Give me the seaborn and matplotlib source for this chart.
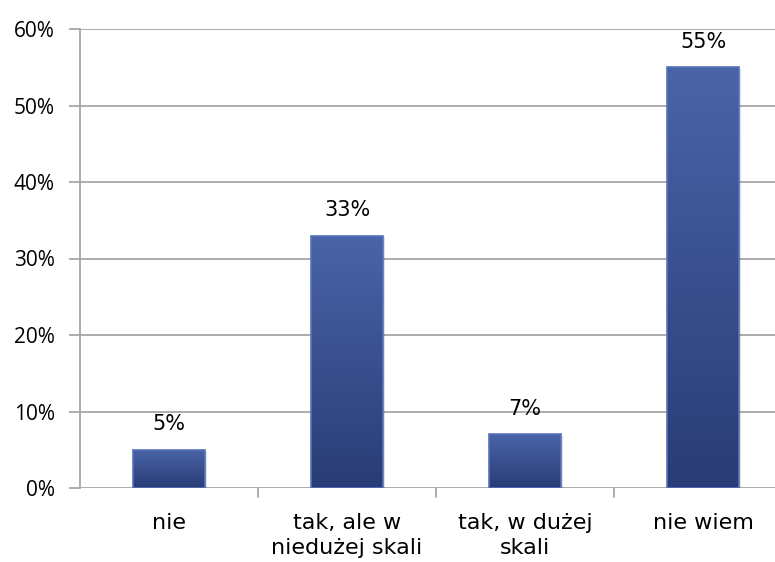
import numpy as np
import pandas as pd
import matplotlib
matplotlib.use("Agg")
import matplotlib.pyplot as plt
from matplotlib.colors import LinearSegmentedColormap
import seaborn as sns

categories = ["nie", "tak, ale w\nniedużej skali", "tak, w dużej\nskali", "nie wiem"]
values = [5, 33, 7, 55]
y_ticks = [0, 10, 20, 30, 40, 50, 60]
y_tick_labels = ["0%", "10%", "20%", "30%", "40%", "50%", "60%"]

df = pd.DataFrame({"cat": categories, "val": values})

sns.set_style("white")
fig = plt.figure(figsize=(7.75, 5.62), dpi=100)
ax = fig.add_axes([80 / 775, 1 - 488 / 562, 712 / 775, (488 - 29) / 562])

sns.barplot(data=df, x="cat", y="val", color="#3b5396", width=0.40,
            saturation=1, ax=ax, zorder=3)

grad = LinearSegmentedColormap.from_list("bar", ["#293c75", "#4a64a8"])
for p in ax.patches:
    x0, y0 = p.get_x(), p.get_y()
    w, h = p.get_width(), p.get_height()
    # soft drop shadow
    ax.add_patch(plt.Rectangle((x0 + 0.012, y0), w, h - 0.25, facecolor="#000000",
                               alpha=0.12, edgecolor="none", zorder=2))
    img = ax.imshow(np.linspace(0, 1, 256).reshape(-1, 1), cmap=grad, aspect="auto",
                    extent=(x0, x0 + w, y0, y0 + h), origin="lower", zorder=3.5)
    img.set_clip_path(p)
    p.set_edgecolor("#5672bb")
    p.set_linewidth(1.2)
    p.set_zorder(4)
    p.set_facecolor("none")

for i, v in enumerate(values):
    ax.text(i, v + 2.0, f"{v}%", ha="center", va="bottom", fontsize=15,
            family="DejaVu Sans", color="#000000")

ax.set_xlim(-0.5, 3.5)
ax.set_ylim(0, 60)
ax.set_yticks(y_ticks)
ax.set_yticklabels(y_tick_labels, fontsize=15, family="Open Sans", color="#000000")
ax.set_xticks(range(len(categories)))
ax.set_xticklabels(categories, fontsize=16, family="DejaVu Sans", linespacing=1.3,
                   color="#000000")
ax.set_xlabel("")
ax.set_ylabel("")

ax.yaxis.grid(True, color="#a6a6a6", linewidth=1.3, zorder=0)
ax.set_axisbelow(True)
for s in ["top", "right", "bottom"]:
    ax.spines[s].set_visible(False)
ax.spines["left"].set_color("#a6a6a6")
ax.spines["left"].set_linewidth(1.3)

# tick marks: y on the left, x category separators below
ax.tick_params(axis="y", length=8, width=1.3, color="#a6a6a6", pad=10, left=True)
ax.tick_params(axis="x", length=0, pad=18)
for xb in [0.5, 1.5, 2.5]:
    ax.plot([xb, xb], [0, -1.15], color="#a6a6a6", lw=1.3, clip_on=False, zorder=1)

fig.savefig("out.png", dpi=100)
